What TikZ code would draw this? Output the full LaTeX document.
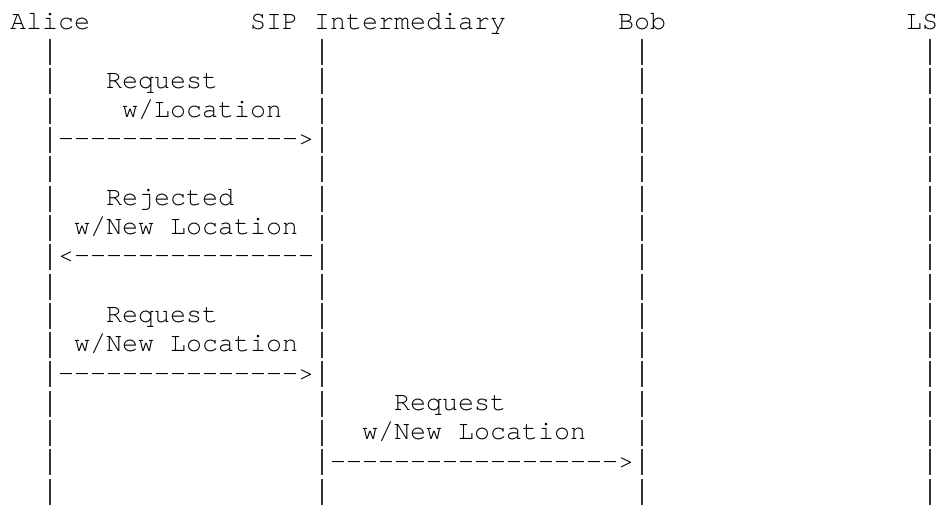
\documentclass[tikz,border=0pt]{standalone}
\usepackage{fontspec}
\setmonofont{texgyrecursor}[Extension=.otf, UprightFont=*-regular]
% a run of n hyphens, one per group so no ligature can form
\newcommand\dashrun[1]{\foreach \i in {1,...,#1}{-}}
\begin{document}
\begin{tikzpicture}[
  txt/.style={font=\ttfamily\fontsize{26.67pt}{29.3pt}\selectfont,
              inner sep=0pt, anchor=base west, text=black},
  lifeline/.style={draw=black!80, line width=1.5pt}]
\useasboundingbox (0pt,0pt) rectangle (941pt,-504pt);
% character grid: one unit = one column / one text line
\begin{scope}[shift={(10pt,-29.5pt)}, x=16pt, y=-29.3pt]
  % participants
  \node[txt] (alice) at (0,0)  {Alice};
  \node[txt] (sip)   at (15,0) {SIP Intermediary};
  \node[txt] (bob)   at (38,0) {Bob};
  \node[txt] (ls)    at (56,0) {LS};
  % lifelines, one bar segment per text line
  \foreach \c in {2,19,39,57}
    \foreach \r in {1,...,16}
      \draw[lifeline] (\c+0.5,\r-0.672) -- (\c+0.5,\r+0.215);
  % Alice -> intermediary: request with location
  \node[txt] (req1a) at (6,2) {Request};
  \node[txt] (req1b) at (7,3) {w/Location};
  \node[txt] (arr1)  at (3,4) {\dashrun{15}>};
  % intermediary -> Alice: rejected
  \node[txt] (rej1a) at (6,6) {Rejected};
  \node[txt] (rej1b) at (4,7) {w/New Location};
  \node[txt] (arr2)  at (3,8) {<\dashrun{15}};
  % Alice -> intermediary: request with new location
  \node[txt] (req2a) at (6,10) {Request};
  \node[txt] (req2b) at (4,11) {w/New Location};
  \node[txt] (arr3)  at (3,12) {\dashrun{15}>};
  % intermediary -> Bob: forwarded request
  \node[txt] (req3a) at (24,13) {Request};
  \node[txt] (req3b) at (22,14) {w/New Location};
  \node[txt] (arr4)  at (20,15) {\dashrun{18}>};
\end{scope}
\end{tikzpicture}
\end{document}
